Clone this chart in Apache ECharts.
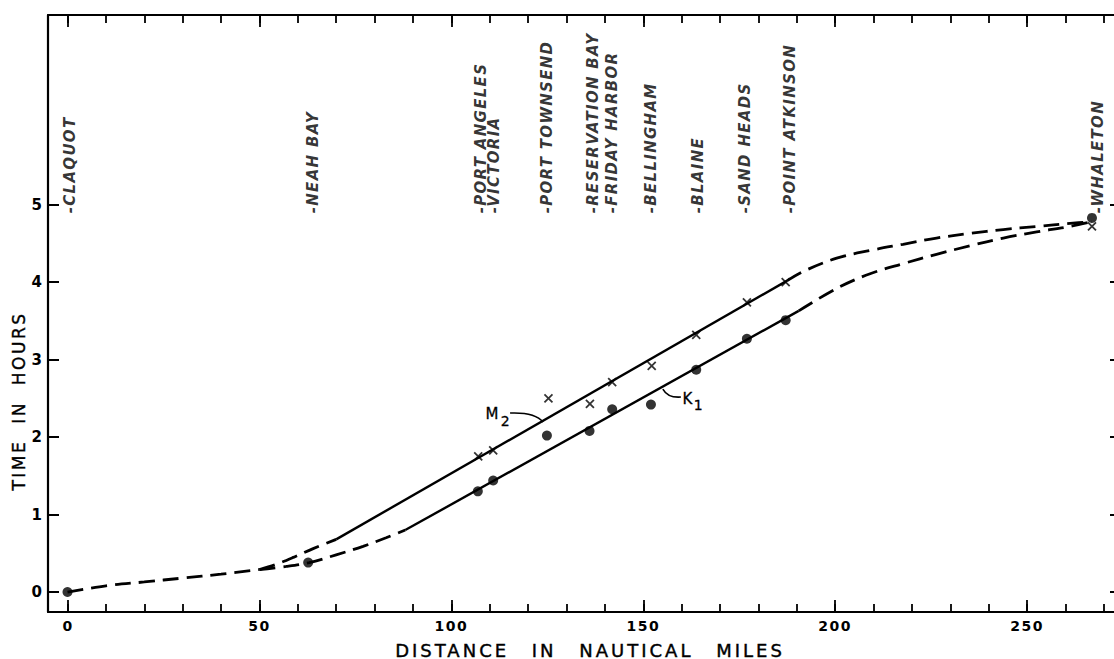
<!DOCTYPE html>
<html>
<head>
<meta charset="utf-8">
<title>Tidal phase lag along the strait</title>
<script src="https://cdn.jsdelivr.net/npm/echarts@6/dist/echarts.min.js"></script>
<style>
  html, body { margin: 0; padding: 0; background: #ffffff; }
  #chart { width: 1114px; height: 659px; }
</style>
</head>
<body>
<div id="chart"></div>
<script>
// Tide stations and their distance from Claquot (nautical miles)
const stations = ['CLAQUOT', 'NEAH BAY', 'PORT ANGELES', 'VICTORIA', 'PORT TOWNSEND',
  'RESERVATION BAY', 'FRIDAY HARBOR', 'BELLINGHAM', 'BLAINE', 'SAND HEADS',
  'POINT ATKINSON', 'WHALETON'];
const stationMiles = [0.6, 64, 107.7, 111.2, 124.8, 136.8, 141.8, 151.9, 164.2, 176.5, 188.2, 268.5];

// Observed time of tide (hours) — M2 constituent (crosses)
const m2Miles = [107, 110.9, 125.3, 136.1, 141.9, 152.2, 163.8, 177, 187.1, 266.9];
const m2Hours = [1.75, 1.83, 2.50, 2.43, 2.71, 2.92, 3.32, 3.74, 4.00, 4.72];

// Observed time of tide (hours) — K1 constituent (dots)
const k1Miles = [0, 62.7, 106.9, 110.9, 124.9, 136, 141.9, 152, 163.8, 177, 187.1, 266.9];
const k1Hours = [0, 0.38, 1.30, 1.44, 2.02, 2.08, 2.36, 2.42, 2.87, 3.27, 3.51, 4.83];

// Faired curves, [miles, hours]
const sharedDashed  = [[0, 0], [10, 0.08], [20, 0.13], [30, 0.18], [40, 0.23], [50, 0.29]];
const m2DashedStart = [[50, 0.29], [54, 0.35], [59, 0.45], [64, 0.56], [70, 0.68]];
const m2Solid       = [[70, 0.68], [187.5, 4.02]];
const m2DashedEnd   = [[187.5, 4.02], [191.7, 4.14], [200.4, 4.31], [209.1, 4.41], [217.7, 4.49],
  [226.4, 4.57], [235.1, 4.63], [243.8, 4.68], [252.5, 4.72], [261.2, 4.76], [266.8, 4.78]];
const k1DashedStart = [[50, 0.29], [57, 0.33], [63, 0.38], [70, 0.48], [77, 0.59], [83, 0.70], [88, 0.80]];
const k1Solid       = [[88, 0.80], [190.5, 3.63]];
const k1DashedEnd   = [[190.5, 3.63], [200.4, 3.92], [209.1, 4.11], [217.7, 4.24], [226.4, 4.36],
  [235.1, 4.47], [243.8, 4.57], [252.5, 4.65], [261.2, 4.72], [266.8, 4.78]];

// Curve tags: letter, subscript, letter/subscript anchors and leader (start, control, end)
const tagLetters   = ['M', 'K'];
const tagSubs      = ['2', '1'];
const tagLetterAt  = [[110.6, 2.30], [161.5, 2.49]];
const tagSubAt     = [[114.0, 2.21], [164.3, 2.41]];
const tagLeaderM2  = [[115.3, 2.311], [121.8, 2.324], [123.9, 2.195]];
const tagLeaderK1  = [[155.1, 2.621], [156.4, 2.505], [159.8, 2.518]];

// Axis ticks
const xMinorTicks = [0, 10, 20, 30, 40, 50, 60, 70, 80, 90, 100, 110, 120, 130, 140,
  150, 160, 170, 180, 190, 200, 210, 220, 230, 240, 250, 260, 270];
const xMajorTicks = [0, 50, 100, 150, 200, 250];
const yTicks = [0, 1, 2, 3, 4, 5];

const xTitle = 'DISTANCE IN NAUTICAL MILES';
const yTitle = 'TIME IN HOURS';

const FONT = "'DejaVu Sans', sans-serif";
const INK = '#000000';
const X_MIN = -5.08, X_MAX = 274.2;
const Y_MIN = -0.258, Y_MAX = 7.45;

function zip(xs, ys) {
  const out = [];
  for (let i = 0; i < xs.length; i++) out.push([xs[i], ys[i]]);
  return out;
}

function xAxisDef(position, ticks, tickLen, showLine, labels) {
  return {
    type: 'value', gridIndex: 0, position: position, min: X_MIN, max: X_MAX,
    splitLine: { show: false },
    axisLine: { show: showLine, onZero: false, lineStyle: { color: INK, width: 2.2 } },
    axisTick: { show: true, inside: true, length: tickLen, customValues: ticks,
      lineStyle: { color: INK, width: 1.8 } },
    axisLabel: labels ? { show: true, customValues: labels, margin: 7, color: INK,
      fontFamily: FONT, fontSize: 14, fontWeight: 'bold' } : { show: false }
  };
}

function curve(data, dashed, width) {
  return {
    type: 'line', data: data, xAxisIndex: 0, yAxisIndex: 0,
    symbol: 'none', showSymbol: false, smooth: dashed ? 0.35 : false, silent: true,
    lineStyle: { color: INK, width: width, type: dashed ? [16, 8] : 'solid', cap: 'butt' },
    z: 2
  };
}

const tagLeaders = [tagLeaderM2, tagLeaderK1];

const chart = echarts.init(document.getElementById('chart'), null, { renderer: 'svg' });

chart.setOption({
  animation: false,
  backgroundColor: '#ffffff',
  grid: { left: 48, right: -6, top: 15, bottom: 47, containLabel: false, outerBoundsMode: 'none' },
  xAxis: [
    xAxisDef('bottom', xMinorTicks, 8, true, xMajorTicks),
    xAxisDef('bottom', xMajorTicks, 12, false, null),
    xAxisDef('top', xMinorTicks, 8, true, null),
    xAxisDef('top', xMajorTicks, 12, false, null)
  ],
  yAxis: [
    {
      type: 'value', position: 'left', min: Y_MIN, max: Y_MAX,
      splitLine: { show: false },
      axisLine: { show: true, onZero: false, lineStyle: { color: INK, width: 2.2 } },
      axisTick: { show: true, inside: true, length: 11, customValues: yTicks,
        lineStyle: { color: INK, width: 2 } },
      axisLabel: { show: true, customValues: yTicks, margin: 6, color: INK,
        fontFamily: FONT, fontSize: 15, fontWeight: 'bold' }
    },
    {
      type: 'value', position: 'right', min: Y_MIN, max: Y_MAX,
      splitLine: { show: false },
      axisLine: { show: true, onZero: false, lineStyle: { color: INK, width: 2 } },
      axisTick: { show: true, inside: true, length: 10, customValues: yTicks,
        lineStyle: { color: INK, width: 2 } },
      axisLabel: { show: false }
    }
  ],
  graphic: [
    { type: 'text', x: 590, y: 650, silent: true,
      style: { text: xTitle, font: '18px ' + FONT, fill: INK, stroke: INK, lineWidth: 0.4,
        align: 'center', verticalAlign: 'middle' } },
    { type: 'text', x: 18.5, y: 401, rotation: Math.PI / 2, silent: true,
      style: { text: yTitle, font: '17px ' + FONT, fill: INK, stroke: INK, lineWidth: 0.4,
        align: 'center', verticalAlign: 'middle' } }
  ],
  series: [
    curve(sharedDashed, true, 2.8),
    curve(m2DashedStart, true, 2.8),
    curve(m2Solid, false, 2.4),
    curve(m2DashedEnd, true, 2.8),
    curve(k1DashedStart, true, 2.8),
    curve(k1Solid, false, 2.4),
    curve(k1DashedEnd, true, 2.8),
    {
      name: 'M2', type: 'scatter', data: zip(m2Miles, m2Hours), silent: true,
      symbol: 'path://M0,0L10,10M10,0L0,10', symbolSize: 8,
      itemStyle: { color: INK, borderColor: INK, borderWidth: 1.8 }, z: 4
    },
    {
      name: 'K1', type: 'scatter', data: zip(k1Miles, k1Hours), silent: true,
      symbol: 'circle', symbolSize: 10,
      itemStyle: { color: INK }, z: 4
    },
    {
      name: 'stations', type: 'scatter', silent: true, symbolSize: 0,
      data: stations.map(function (s, i) { return { name: s, value: [stationMiles[i], 4.89] }; }),
      label: {
        show: true, position: [0, 0], rotate: 90, align: 'left', verticalAlign: 'middle',
        formatter: function (p) { return '-' + p.name; },
        color: INK, fontFamily: FONT, fontSize: 15, fontWeight: 'bold', fontStyle: 'italic'
      },
      z: 5
    },
    {
      name: 'tags', type: 'custom', silent: true, clip: false,
      data: [[tagLetterAt[0][0], tagLetterAt[0][1], 0], [tagLetterAt[1][0], tagLetterAt[1][1], 1]],
      encode: { x: 0, y: 1 },
      renderItem: function (params, api) {
        const i = api.value(2);
        const lead = tagLeaders[i];
        const p0 = api.coord(lead[0]);
        const pc = api.coord(lead[1]);
        const p1 = api.coord(lead[2]);
        const a = api.coord(tagLetterAt[i]);
        const b = api.coord(tagSubAt[i]);
        return {
          type: 'group',
          children: [
            { type: 'bezierCurve',
              shape: { x1: p0[0], y1: p0[1], cpx1: pc[0], cpy1: pc[1], x2: p1[0], y2: p1[1] },
              style: { stroke: INK, lineWidth: 1.6, fill: null } },
            { type: 'text', x: a[0], y: a[1],
              style: { text: tagLetters[i], font: '15px ' + FONT, fill: INK, stroke: INK, lineWidth: 0.3,
                align: 'center', verticalAlign: 'middle' } },
            { type: 'text', x: b[0], y: b[1],
              style: { text: tagSubs[i], font: '14px ' + FONT, fill: INK, stroke: INK, lineWidth: 0.3,
                align: 'center', verticalAlign: 'middle' } }
          ]
        };
      },
      z: 5
    }
  ]
});

// Hand-lettered spacing for the captions and labels
function spaceLettering() {
  const nodes = chart.getDom().querySelectorAll('text');
  nodes.forEach(function (el) {
    const s = el.textContent || '';
    let ls = 0, ws = 0;
    if (s === xTitle) { ls = 3; ws = 14; }
    else if (s === yTitle) { ls = 2.5; ws = 8; }
    else if (s.charAt(0) === '-') { ls = 1.3; }
    else if (/^\d\d+$/.test(s)) { ls = 1.5; }
    el.style.letterSpacing = ls + 'px';
    el.style.wordSpacing = ws + 'px';
  });
}
chart.getZr().flush();
spaceLettering();
chart.on('finished', spaceLettering);
</script>
</body>
</html>
